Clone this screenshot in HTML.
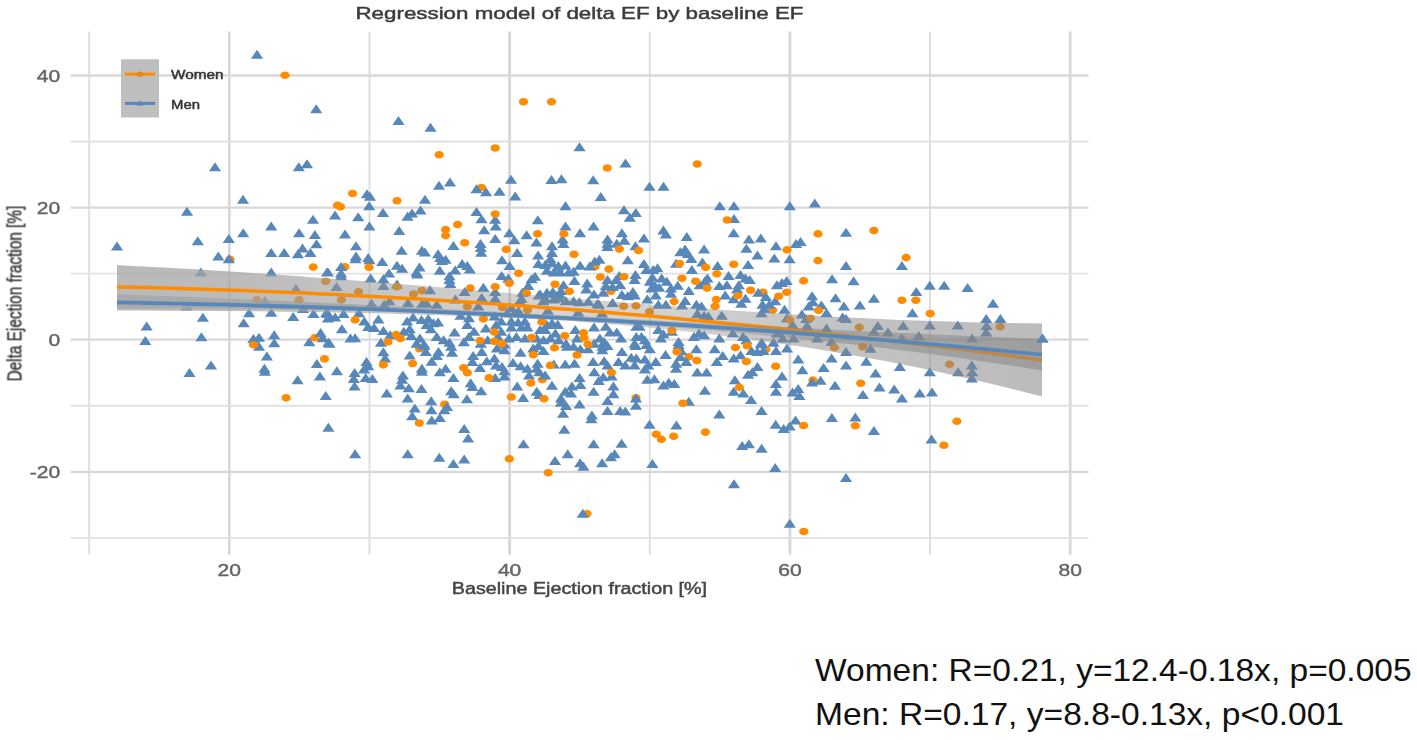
<!DOCTYPE html><html><head><meta charset="utf-8"><title>Regression model of delta EF by baseline EF</title>
<style>html,body{margin:0;padding:0;background:#fff}svg{display:block}text{font-family:"Liberation Sans",sans-serif}.b text{stroke-width:.45px;paint-order:stroke}</style></head><body>
<svg width="1417" height="740" viewBox="0 0 1417 740">
<defs><filter id="bl" x="-2%" y="-2%" width="104%" height="104%"><feGaussianBlur stdDeviation="0.7"/></filter></defs>
<rect width="1417" height="740" fill="#fff"/>
<g filter="url(#bl)" class="b">
<g stroke="#d9d9d9"><line x1="89.2" y1="31.5" x2="89.2" y2="554.8" stroke-width="2.0" stroke="#dfdfdf"/><line x1="229.3" y1="31.5" x2="229.3" y2="554.8" stroke-width="2.8" stroke="#d8d8d8"/><line x1="369.5" y1="31.5" x2="369.5" y2="554.8" stroke-width="2.0" stroke="#dfdfdf"/><line x1="509.6" y1="31.5" x2="509.6" y2="554.8" stroke-width="2.8" stroke="#d8d8d8"/><line x1="649.8" y1="31.5" x2="649.8" y2="554.8" stroke-width="2.0" stroke="#dfdfdf"/><line x1="789.9" y1="31.5" x2="789.9" y2="554.8" stroke-width="2.8" stroke="#d8d8d8"/><line x1="930.0" y1="31.5" x2="930.0" y2="554.8" stroke-width="2.0" stroke="#dfdfdf"/><line x1="1070.2" y1="31.5" x2="1070.2" y2="554.8" stroke-width="2.8" stroke="#d8d8d8"/><line x1="70.6" y1="537.9" x2="1088.5" y2="537.9" stroke-width="1.9" stroke="#e1e1e1"/><line x1="70.6" y1="471.8" x2="1088.5" y2="471.8" stroke-width="2.3" stroke="#d8d8d8"/><line x1="70.6" y1="405.8" x2="1088.5" y2="405.8" stroke-width="1.9" stroke="#e1e1e1"/><line x1="70.6" y1="339.7" x2="1088.5" y2="339.7" stroke-width="2.3" stroke="#d8d8d8"/><line x1="70.6" y1="273.6" x2="1088.5" y2="273.6" stroke-width="1.9" stroke="#e1e1e1"/><line x1="70.6" y1="207.6" x2="1088.5" y2="207.6" stroke-width="2.3" stroke="#d8d8d8"/><line x1="70.6" y1="141.5" x2="1088.5" y2="141.5" stroke-width="1.9" stroke="#e1e1e1"/><line x1="70.6" y1="75.5" x2="1088.5" y2="75.5" stroke-width="2.3" stroke="#d8d8d8"/></g>
<g fill="#ff8c00"><ellipse cx="481.5" cy="187.5" rx="4.6" ry="3.8"/><ellipse cx="230.0" cy="259.4" rx="4.6" ry="3.8"/><ellipse cx="314.9" cy="337.7" rx="4.6" ry="3.8"/><ellipse cx="345.0" cy="266.9" rx="4.6" ry="3.8"/><ellipse cx="594.8" cy="266.9" rx="4.6" ry="3.8"/><ellipse cx="610.9" cy="291.4" rx="4.6" ry="3.8"/><ellipse cx="763.0" cy="292.3" rx="4.6" ry="3.8"/><ellipse cx="772.6" cy="310.1" rx="4.6" ry="3.8"/><ellipse cx="419.5" cy="348.8" rx="4.6" ry="3.8"/><ellipse cx="542.3" cy="379.6" rx="4.6" ry="3.8"/><ellipse cx="444.7" cy="404.3" rx="4.6" ry="3.8"/><ellipse cx="688.8" cy="356.9" rx="4.6" ry="3.8"/><ellipse cx="765.9" cy="349.6" rx="4.6" ry="3.8"/><ellipse cx="636.0" cy="397.9" rx="4.6" ry="3.8"/><ellipse cx="812.9" cy="380.1" rx="4.6" ry="3.8"/><ellipse cx="587.0" cy="513.8" rx="4.6" ry="3.8"/></g>
<path fill="#5888ba" d="M250.9 58.7L257.0 49.7L263.1 58.7ZM310.1 113.2L316.2 104.2L322.3 113.2ZM392.4 124.9L398.5 115.9L404.6 124.9ZM424.4 131.7L430.5 122.7L436.6 131.7ZM208.9 171.2L215.0 162.2L221.1 171.2ZM292.7 171.2L298.8 162.2L304.9 171.2ZM300.9 168.2L307.0 159.2L313.1 168.2ZM236.9 203.7L243.0 194.7L249.1 203.7ZM180.9 215.7L187.0 206.7L193.1 215.7ZM432.9 189.7L439.0 180.7L445.1 189.7ZM443.9 186.5L450.0 177.5L456.1 186.5ZM360.9 198.2L367.0 189.2L373.1 198.2ZM363.9 200.7L370.0 191.7L376.1 200.7ZM418.9 203.7L425.0 194.7L431.1 203.7ZM363.1 210.2L369.2 201.2L375.3 210.2ZM376.9 216.9L383.0 207.9L389.1 216.9ZM414.4 214.5L420.5 205.5L426.6 214.5ZM405.9 217.5L412.0 208.5L418.1 217.5ZM401.4 220.7L407.5 211.7L413.6 220.7ZM328.9 219.5L335.0 210.5L341.1 219.5ZM352.1 221.2L358.2 212.2L364.3 221.2ZM306.9 223.7L313.0 214.7L319.1 223.7ZM573.4 151.2L579.5 142.2L585.6 151.2ZM619.4 167.5L625.5 158.5L631.6 167.5ZM504.9 183.7L511.0 174.7L517.1 183.7ZM545.4 183.9L551.5 174.9L557.6 183.9ZM555.4 183.2L561.5 174.2L567.6 183.2ZM587.1 184.2L593.2 175.2L599.3 184.2ZM643.4 190.7L649.5 181.7L655.6 190.7ZM657.4 190.7L663.5 181.7L669.6 190.7ZM470.4 193.2L476.5 184.2L482.6 193.2ZM479.9 196.2L486.0 187.2L492.1 196.2ZM493.4 195.7L499.5 186.7L505.6 195.7ZM509.1 200.5L515.2 191.5L521.3 200.5ZM594.7 200.9L600.8 191.9L606.9 200.9ZM559.4 210.2L565.5 201.2L571.6 210.2ZM713.7 210.2L719.8 201.2L725.9 210.2ZM727.9 210.2L734.0 201.2L740.1 210.2ZM783.7 210.2L789.8 201.2L795.9 210.2ZM470.4 215.9L476.5 206.9L482.6 215.9ZM617.9 214.2L624.0 205.2L630.1 214.2ZM629.7 216.9L635.8 207.9L641.9 216.9ZM623.7 221.7L629.8 212.7L635.9 221.7ZM475.4 223.2L481.5 214.2L487.6 223.2ZM489.1 223.7L495.2 214.7L501.3 223.7ZM531.7 224.2L537.8 215.2L543.9 224.2ZM727.9 222.9L734.0 213.9L740.1 222.9ZM808.7 207.5L814.8 198.5L820.9 207.5ZM265.1 230.4L271.2 221.4L277.3 230.4ZM237.1 237.2L243.2 228.2L249.3 237.2ZM293.0 237.2L299.1 228.2L305.2 237.2ZM308.8 238.9L314.9 229.9L321.0 238.9ZM222.7 243.1L228.8 234.1L234.9 243.1ZM191.7 245.3L197.8 236.3L203.9 245.3ZM310.4 248.2L316.5 239.2L322.6 248.2ZM110.9 250.4L117.0 241.4L123.1 250.4ZM296.4 252.5L302.5 243.5L308.6 252.5ZM265.1 257.0L271.2 248.0L277.3 257.0ZM278.1 257.0L284.2 248.0L290.3 257.0ZM291.8 258.2L297.9 249.2L304.0 258.2ZM304.3 257.0L310.4 248.0L316.5 257.0ZM212.2 260.6L218.3 251.6L224.4 260.6ZM222.7 263.3L228.8 254.3L234.9 263.3ZM194.8 276.5L200.9 267.5L207.0 276.5ZM265.1 276.5L271.2 267.5L277.3 276.5ZM320.9 276.5L327.0 267.5L333.1 276.5ZM289.8 292.9L295.9 283.9L302.0 292.9ZM258.8 305.3L264.9 296.3L271.0 305.3ZM180.4 310.4L186.5 301.4L192.6 310.4ZM296.9 312.9L303.0 303.9L309.1 312.9ZM243.0 317.2L249.1 308.2L255.2 317.2ZM265.1 316.7L271.2 307.7L277.3 316.7ZM287.1 320.9L293.2 311.9L299.3 320.9ZM307.4 318.0L313.5 309.0L319.6 318.0ZM320.1 317.2L326.2 308.2L332.3 317.2ZM321.8 322.6L327.9 313.6L334.0 322.6ZM196.8 321.7L202.9 312.7L209.0 321.7ZM237.6 327.3L243.7 318.3L249.8 327.3ZM140.6 330.4L146.7 321.4L152.8 330.4ZM139.2 345.1L145.3 336.1L151.4 345.1ZM195.3 341.2L201.4 332.2L207.5 341.2ZM247.3 342.9L253.4 333.9L259.5 342.9ZM252.9 341.7L259.0 332.7L265.1 341.7ZM268.1 339.2L274.2 330.2L280.3 339.2ZM314.5 337.1L320.6 328.1L326.7 337.1ZM316.7 342.2L322.8 333.2L328.9 342.2ZM303.2 346.3L309.3 337.3L315.4 346.3ZM268.1 347.3L274.2 338.3L280.3 347.3ZM323.5 347.7L329.6 338.7L335.7 347.7ZM363.3 230.4L369.4 221.4L375.5 230.4ZM338.9 238.4L345.0 229.4L351.1 238.4ZM393.1 235.0L399.2 226.0L405.3 235.0ZM478.1 234.2L484.2 225.2L490.3 234.2ZM489.6 230.4L495.7 221.4L501.8 230.4ZM503.2 237.2L509.3 228.2L515.4 237.2ZM520.5 239.3L526.6 230.3L532.7 239.3ZM489.1 243.1L495.2 234.1L501.3 243.1ZM508.3 244.3L514.4 235.3L520.5 244.3ZM530.3 246.4L536.4 237.4L542.5 246.4ZM545.9 250.3L552.0 241.3L558.1 250.3ZM349.9 250.3L356.0 241.3L362.1 250.3ZM447.3 249.9L453.4 240.9L459.5 249.9ZM474.4 248.1L480.5 239.1L486.6 248.1ZM474.7 252.0L480.8 243.0L486.9 252.0ZM475.1 256.7L481.2 247.7L487.3 256.7ZM395.5 254.8L401.6 245.8L407.7 254.8ZM415.8 254.8L421.9 245.8L428.0 254.8ZM418.8 256.5L424.9 247.5L431.0 256.5ZM511.1 257.0L517.2 248.0L523.3 257.0ZM532.0 259.6L538.1 250.6L544.2 259.6ZM545.9 257.0L552.0 248.0L558.1 257.0ZM544.2 263.0L550.3 254.0L556.4 263.0ZM349.9 260.4L356.0 251.4L362.1 260.4ZM349.4 263.3L355.5 254.3L361.6 263.3ZM362.1 262.1L368.2 253.1L374.3 262.1ZM363.3 264.3L369.4 255.3L375.5 264.3ZM376.1 266.0L382.2 257.0L388.3 266.0ZM432.0 258.2L438.1 249.2L444.2 258.2ZM434.1 262.1L440.2 253.1L446.3 262.1ZM439.5 263.8L445.6 254.8L451.7 263.8ZM435.8 265.0L441.9 256.0L448.0 265.0ZM495.9 264.3L502.0 255.3L508.1 264.3ZM503.5 270.1L509.6 261.1L515.7 270.1ZM456.1 268.0L462.2 259.0L468.3 268.0ZM461.2 270.1L467.3 261.1L473.4 270.1ZM463.7 273.6L469.8 264.6L475.9 273.6ZM390.9 269.7L397.0 260.7L403.1 269.7ZM396.0 272.8L402.1 263.8L408.2 272.8ZM413.4 271.4L419.5 262.4L425.6 271.4ZM335.0 271.1L341.1 262.1L347.2 271.1ZM449.0 274.5L455.1 265.5L461.2 274.5ZM433.7 274.8L439.8 265.8L445.9 274.8ZM410.4 276.5L416.5 267.5L422.6 276.5ZM411.2 278.5L417.3 269.5L423.4 278.5ZM382.9 277.4L389.0 268.4L395.1 277.4ZM321.9 276.5L328.0 267.5L334.1 276.5ZM335.0 277.4L341.1 268.4L347.2 277.4ZM335.0 280.2L341.1 271.2L347.2 280.2ZM364.6 282.4L370.7 273.4L376.8 282.4ZM377.3 283.3L383.4 274.3L389.5 283.3ZM443.4 280.2L449.5 271.2L455.6 280.2ZM443.4 284.1L449.5 275.1L455.6 284.1ZM444.2 288.0L450.3 279.0L456.4 288.0ZM495.6 279.9L501.7 270.9L507.8 279.9ZM502.2 282.4L508.3 273.4L514.4 282.4ZM528.9 280.7L535.0 271.7L541.1 280.7ZM525.5 283.3L531.6 274.3L537.7 283.3ZM532.3 268.0L538.4 259.0L544.5 268.0ZM539.1 268.9L545.2 259.9L551.3 268.9ZM545.9 267.2L552.0 258.2L558.1 267.2ZM551.8 271.4L557.9 262.4L564.0 271.4ZM540.8 274.8L546.9 265.8L553.0 274.8ZM547.6 276.5L553.7 267.5L559.8 276.5ZM522.2 290.1L528.3 281.1L534.4 290.1ZM477.3 291.8L483.4 282.8L489.5 291.8ZM489.1 296.0L495.2 287.0L501.3 296.0ZM458.6 296.0L464.7 287.0L470.8 296.0ZM423.9 294.3L430.0 285.3L436.1 294.3ZM377.3 290.1L383.4 281.1L389.5 290.1ZM330.4 290.9L336.5 281.9L342.6 290.9ZM390.9 288.4L397.0 279.4L403.1 288.4ZM516.2 296.8L522.3 287.8L528.4 296.8ZM515.4 302.8L521.5 293.8L527.6 302.8ZM475.6 301.9L481.7 292.9L487.8 301.9ZM489.1 302.8L495.2 293.8L501.3 302.8ZM449.3 303.6L455.4 294.6L461.5 303.6ZM534.0 298.5L540.1 289.5L546.2 298.5ZM540.8 296.8L546.9 287.8L553.0 296.8ZM546.7 296.0L552.8 287.0L558.9 296.0ZM553.5 298.5L559.6 289.5L565.7 298.5ZM539.1 302.8L545.2 293.8L551.3 302.8ZM547.6 303.6L553.7 294.6L559.8 303.6ZM383.3 305.3L389.4 296.3L395.5 305.3ZM365.5 307.8L371.6 298.8L377.7 307.8ZM401.9 307.0L408.0 298.0L414.1 307.0ZM416.3 307.8L422.4 298.8L428.5 307.8ZM420.5 307.8L426.6 298.8L432.7 307.8ZM430.7 308.7L436.8 299.7L442.9 308.7ZM378.2 308.7L384.3 299.7L390.4 308.7ZM472.2 310.4L478.3 301.4L484.4 310.4ZM505.2 312.1L511.3 303.1L517.4 312.1ZM513.7 305.3L519.8 296.3L525.9 305.3ZM321.9 318.0L328.0 309.0L334.1 318.0ZM329.1 321.4L335.2 312.4L341.3 321.4ZM337.5 318.0L343.6 309.0L349.7 318.0ZM352.8 317.2L358.9 308.2L365.0 317.2ZM358.2 325.6L364.3 316.6L370.4 325.6ZM372.3 323.6L378.4 314.6L384.5 323.6ZM362.1 331.1L368.2 322.1L374.3 331.1ZM368.0 332.1L374.1 323.1L380.2 332.1ZM335.8 333.3L341.9 324.3L348.0 333.3ZM377.3 334.9L383.4 325.9L389.5 334.9ZM344.3 342.6L350.4 333.6L356.5 342.6ZM349.0 342.2L355.1 333.2L361.2 342.2ZM322.3 346.8L328.4 337.8L334.5 346.8ZM374.8 346.8L380.9 337.8L387.0 346.8ZM384.1 339.2L390.2 330.2L396.3 339.2ZM401.0 325.6L407.1 316.6L413.2 325.6ZM407.0 321.4L413.1 312.4L419.2 321.4ZM415.4 323.9L421.5 314.9L427.6 323.9ZM422.2 323.1L428.3 314.1L434.4 323.1ZM420.5 329.0L426.6 320.0L432.7 329.0ZM427.3 327.3L433.4 318.3L439.5 327.3ZM432.0 326.5L438.1 317.5L444.2 326.5ZM424.8 333.3L430.9 324.3L437.0 333.3ZM403.6 333.3L409.7 324.3L415.8 333.3ZM397.7 335.8L403.8 326.8L409.9 335.8ZM405.3 340.0L411.4 331.0L417.5 340.0ZM413.8 342.6L419.9 333.6L426.0 342.6ZM410.4 347.7L416.5 338.7L422.6 347.7ZM418.0 348.5L424.1 339.5L430.2 348.5ZM430.7 340.9L436.8 331.9L442.9 340.9ZM437.5 344.3L443.6 335.3L449.7 344.3ZM443.4 346.8L449.5 337.8L455.6 346.8ZM448.5 336.6L454.6 327.6L460.7 336.6ZM461.2 329.0L467.3 320.0L473.4 329.0ZM468.0 335.8L474.1 326.8L480.2 335.8ZM462.9 340.9L469.0 331.9L475.1 340.9ZM457.8 346.3L463.9 337.3L470.0 346.3ZM488.3 320.6L494.4 311.6L500.5 320.6ZM495.1 325.6L501.2 316.6L507.3 325.6ZM490.0 329.0L496.1 320.0L502.2 329.0ZM479.8 332.4L485.9 323.4L492.0 332.4ZM505.2 325.6L511.3 316.6L517.4 325.6ZM512.0 326.5L518.1 317.5L524.2 326.5ZM518.8 325.6L524.9 316.6L531.0 325.6ZM505.2 331.6L511.3 322.6L517.4 331.6ZM515.4 331.6L521.5 322.6L527.6 331.6ZM521.3 331.6L527.4 322.6L533.5 331.6ZM495.1 335.8L501.2 326.8L507.3 335.8ZM491.7 340.9L497.8 331.9L503.9 340.9ZM502.7 342.6L508.8 333.6L514.9 342.6ZM510.3 340.9L516.4 331.9L522.5 340.9ZM518.8 342.6L524.9 333.6L531.0 342.6ZM534.0 334.1L540.1 325.1L546.2 334.1ZM540.8 329.0L546.9 320.0L553.0 329.0ZM545.9 327.3L552.0 318.3L558.1 327.3ZM551.8 329.0L557.9 320.0L564.0 329.0ZM539.1 334.1L545.2 325.1L551.3 334.1ZM549.3 337.5L555.4 328.5L561.5 337.5ZM530.6 342.6L536.7 333.6L542.8 342.6ZM537.4 344.3L543.5 335.3L549.6 344.3ZM544.2 342.6L550.3 333.6L556.4 342.6ZM552.6 344.3L558.7 335.3L564.8 344.3ZM501.0 317.2L507.1 308.2L513.2 317.2ZM508.6 317.2L514.7 308.2L520.8 317.2ZM454.4 319.7L460.5 310.7L466.6 319.7ZM462.9 322.2L469.0 313.2L475.1 322.2ZM474.7 347.7L480.8 338.7L486.9 347.7ZM481.5 344.3L487.6 335.3L493.7 344.3ZM498.4 348.5L504.5 339.5L510.6 348.5ZM559.4 230.4L565.5 221.4L571.6 230.4ZM587.5 230.4L593.6 221.4L599.7 230.4ZM574.0 237.2L580.1 228.2L586.2 237.2ZM556.5 243.5L562.6 234.5L568.7 243.5ZM557.4 248.1L563.5 239.1L569.6 248.1ZM615.8 237.2L621.9 228.2L628.0 237.2ZM601.4 243.5L607.5 234.5L613.6 243.5ZM601.4 247.7L607.5 238.7L613.6 247.7ZM601.4 251.1L607.5 242.1L613.6 251.1ZM610.7 247.7L616.8 238.7L622.9 247.7ZM618.3 244.7L624.4 235.7L630.5 244.7ZM637.8 242.6L643.9 233.6L650.0 242.6ZM629.4 250.3L635.5 241.3L641.6 250.3ZM657.3 234.5L663.4 225.5L669.5 234.5ZM659.8 238.4L665.9 229.4L672.0 238.4ZM680.7 240.9L686.8 231.9L692.9 240.9ZM727.6 237.2L733.7 228.2L739.8 237.2ZM742.8 243.5L748.9 234.5L755.0 243.5ZM754.7 242.6L760.8 233.6L766.9 242.6ZM740.3 252.8L746.4 243.8L752.5 252.8ZM769.9 250.3L776.0 241.3L782.1 250.3ZM751.3 259.6L757.4 250.6L763.5 259.6ZM768.2 262.6L774.3 253.6L780.4 262.6ZM783.5 263.3L789.6 254.3L795.7 263.3ZM698.0 253.6L704.1 244.6L710.2 253.6ZM674.2 256.2L680.3 247.2L686.4 256.2ZM679.0 253.6L685.1 244.6L691.2 253.6ZM681.9 257.9L688.0 248.9L694.1 257.9ZM685.2 263.0L691.3 254.0L697.4 263.0ZM696.3 266.4L702.4 257.4L708.5 266.4ZM670.0 267.7L676.1 258.7L682.2 267.7ZM711.5 270.1L717.6 261.1L723.7 270.1ZM742.0 268.9L748.1 259.9L754.2 268.9ZM685.8 274.0L691.9 265.0L698.0 274.0ZM621.7 264.3L627.8 255.3L633.9 264.3ZM593.3 263.8L599.4 254.8L605.5 263.8ZM588.7 265.5L594.8 256.5L600.9 265.5ZM574.0 269.7L580.1 260.7L586.2 269.7ZM559.4 269.4L565.5 260.4L571.6 269.4ZM552.3 270.1L558.4 261.1L564.5 270.1ZM583.6 270.6L589.7 261.6L595.8 270.6ZM637.8 268.0L643.9 259.0L650.0 268.0ZM640.4 274.0L646.5 265.0L652.6 274.0ZM647.1 274.0L653.2 265.0L659.3 274.0ZM651.4 272.3L657.5 263.3L663.6 272.3ZM629.4 279.1L635.5 270.1L641.6 279.1ZM628.5 284.1L634.6 275.1L640.7 284.1ZM646.3 281.6L652.4 272.6L658.5 281.6ZM643.8 285.8L649.9 276.8L656.0 285.8ZM655.6 282.4L661.7 273.4L667.8 282.4ZM660.7 285.8L666.8 276.8L672.9 285.8ZM613.3 279.9L619.4 270.9L625.5 279.9ZM609.9 284.1L616.0 275.1L622.1 284.1ZM601.4 284.1L607.5 275.1L613.6 284.1ZM599.7 290.1L605.8 281.1L611.9 290.1ZM606.5 290.9L612.6 281.9L618.7 290.9ZM614.1 289.2L620.2 280.2L626.3 289.2ZM581.1 287.5L587.2 278.5L593.3 287.5ZM580.2 293.5L586.3 284.5L592.4 293.5ZM568.4 285.0L574.5 276.0L580.6 285.0ZM557.4 289.2L563.5 280.2L569.6 289.2ZM554.0 276.5L560.1 267.5L566.2 276.5ZM562.5 276.5L568.6 267.5L574.7 276.5ZM567.5 275.7L573.6 266.7L579.7 275.7ZM554.8 295.1L560.9 286.1L567.0 295.1ZM587.9 298.5L594.0 289.5L600.1 298.5ZM597.2 296.8L603.3 287.8L609.4 296.8ZM615.8 298.9L621.9 289.9L628.0 298.9ZM621.7 300.2L627.8 291.2L633.9 300.2ZM626.8 296.0L632.9 287.0L639.0 296.0ZM628.5 299.4L634.6 290.4L640.7 299.4ZM645.4 292.6L651.5 283.6L657.6 292.6ZM648.8 290.1L654.9 281.1L661.0 290.1ZM653.1 291.8L659.2 282.8L665.3 291.8ZM664.9 292.6L671.0 283.6L677.1 292.6ZM664.9 297.7L671.0 288.7L677.1 297.7ZM671.7 289.7L677.8 280.7L683.9 289.7ZM682.7 295.1L688.8 286.1L694.9 295.1ZM649.7 299.4L655.8 290.4L661.9 299.4ZM641.2 303.6L647.3 294.6L653.4 303.6ZM652.2 308.7L658.3 299.7L664.4 308.7ZM659.8 308.7L665.9 299.7L672.0 308.7ZM679.0 305.0L685.1 296.0L691.2 305.0ZM675.9 309.5L682.0 300.5L688.1 309.5ZM690.3 308.7L696.4 299.7L702.5 308.7ZM695.4 310.4L701.5 301.4L707.6 310.4ZM701.3 282.4L707.4 273.4L713.5 282.4ZM698.8 285.3L704.9 276.3L711.0 285.3ZM693.7 289.2L699.8 280.2L705.9 289.2ZM713.2 290.1L719.3 281.1L725.4 290.1ZM720.8 289.2L726.9 280.2L733.0 289.2ZM722.5 279.9L728.6 270.9L734.7 279.9ZM734.4 279.1L740.5 270.1L746.6 279.1ZM739.4 282.4L745.5 273.4L751.6 282.4ZM743.7 284.1L749.8 275.1L755.9 284.1ZM732.7 289.2L738.8 280.2L744.9 289.2ZM731.0 293.5L737.1 284.5L743.2 293.5ZM719.1 299.4L725.2 290.4L731.3 299.4ZM727.6 303.3L733.7 294.3L739.8 303.3ZM739.4 302.8L745.5 293.8L751.6 302.8ZM735.2 307.8L741.3 298.8L747.4 307.8ZM752.2 296.8L758.3 287.8L764.4 296.8ZM759.8 301.1L765.9 292.1L772.0 301.1ZM756.4 308.7L762.5 299.7L768.6 308.7ZM763.2 308.7L769.3 299.7L775.4 308.7ZM758.1 312.9L764.2 303.9L770.3 312.9ZM755.5 317.2L761.6 308.2L767.7 317.2ZM769.1 305.3L775.2 296.3L781.3 305.3ZM770.8 289.2L776.9 280.2L783.0 289.2ZM775.9 287.0L782.0 278.0L788.1 287.0ZM780.6 285.0L786.7 276.0L792.8 285.0ZM778.4 313.8L784.5 304.8L790.6 313.8ZM606.5 307.0L612.6 298.0L618.7 307.0ZM592.9 308.7L599.0 299.7L605.1 308.7ZM567.5 305.3L573.6 296.3L579.7 305.3ZM691.2 318.0L697.3 309.0L703.4 318.0ZM698.0 319.7L704.1 310.7L710.2 319.7ZM702.2 320.6L708.3 311.6L714.4 320.6ZM715.7 319.7L721.8 310.7L727.9 319.7ZM780.9 322.2L787.0 313.2L793.1 322.2ZM551.4 329.0L557.5 320.0L563.6 329.0ZM569.2 334.1L575.3 325.1L581.4 334.1ZM570.9 342.6L577.0 333.6L583.1 342.6ZM587.9 331.6L594.0 322.6L600.1 331.6ZM599.7 330.7L605.8 321.7L611.9 330.7ZM603.9 336.6L610.0 327.6L616.1 336.6ZM610.7 336.6L616.8 327.6L622.9 336.6ZM615.0 342.6L621.1 333.6L627.2 342.6ZM593.8 342.6L599.9 333.6L606.0 342.6ZM598.0 346.0L604.1 337.0L610.2 346.0ZM559.9 347.7L566.0 338.7L572.1 347.7ZM587.9 347.7L594.0 338.7L600.1 347.7ZM630.2 330.7L636.3 321.7L642.4 330.7ZM633.6 330.7L639.7 321.7L645.8 330.7ZM630.2 340.9L636.3 331.9L642.4 340.9ZM635.3 340.9L641.4 331.9L647.5 340.9ZM638.7 344.3L644.8 335.3L650.9 344.3ZM628.5 347.7L634.6 338.7L640.7 347.7ZM652.2 334.1L658.3 325.1L664.4 334.1ZM657.3 338.3L663.4 329.3L669.5 338.3ZM654.8 342.6L660.9 333.6L667.0 342.6ZM665.8 335.8L671.9 326.8L678.0 335.8ZM672.5 346.0L678.6 337.0L684.7 346.0ZM687.8 340.9L693.9 331.9L700.0 340.9ZM692.9 337.5L699.0 328.5L705.1 337.5ZM698.0 339.2L704.1 330.2L710.2 339.2ZM713.2 342.6L719.3 333.6L725.4 342.6ZM736.9 340.9L743.0 331.9L749.1 340.9ZM740.3 344.3L746.4 335.3L752.5 344.3ZM755.5 346.8L761.6 337.8L767.7 346.8ZM767.4 346.8L773.5 337.8L779.6 346.8ZM776.7 342.6L782.8 333.6L788.9 342.6ZM726.7 337.5L732.8 328.5L738.9 337.5ZM770.8 337.5L776.9 328.5L783.0 337.5ZM839.9 236.7L846.0 227.7L852.1 236.7ZM789.9 248.1L796.0 239.1L802.1 248.1ZM794.5 246.0L800.6 237.0L806.7 246.0ZM839.9 270.1L846.0 261.1L852.1 270.1ZM895.8 270.1L901.9 261.1L908.0 270.1ZM826.0 283.3L832.1 274.3L838.2 283.3ZM847.5 285.3L853.6 276.3L859.7 285.3ZM923.7 289.7L929.8 280.7L935.9 289.7ZM938.1 289.7L944.2 280.7L950.3 289.7ZM961.5 292.1L967.6 283.1L973.7 292.1ZM910.2 296.0L916.3 287.0L922.4 296.0ZM806.0 300.2L812.1 291.2L818.2 300.2ZM829.4 302.3L835.5 293.3L841.6 302.3ZM867.8 302.8L873.9 293.8L880.0 302.8ZM986.9 307.8L993.0 298.8L999.1 307.8ZM837.8 310.4L843.9 301.4L850.0 310.4ZM853.8 309.5L859.9 300.5L866.0 309.5ZM802.6 310.4L808.7 301.4L814.8 310.4ZM806.8 306.2L812.9 297.2L819.0 306.2ZM815.3 309.5L821.4 300.5L827.5 309.5ZM820.4 317.2L826.5 308.2L832.6 317.2ZM906.3 317.2L912.4 308.2L918.5 317.2ZM795.8 318.5L801.9 309.5L808.0 318.5ZM800.1 323.1L806.2 314.1L812.3 323.1ZM836.5 321.4L842.6 312.4L848.7 321.4ZM839.9 323.1L846.0 314.1L852.1 323.1ZM980.1 323.1L986.2 314.1L992.3 323.1ZM994.3 323.1L1000.4 314.1L1006.5 323.1ZM980.5 329.9L986.6 320.9L992.7 329.9ZM980.1 336.6L986.2 327.6L992.3 336.6ZM951.7 329.4L957.8 320.4L963.9 329.4ZM923.7 329.4L929.8 320.4L935.9 329.4ZM897.1 329.9L903.2 320.9L909.3 329.9ZM871.7 329.9L877.8 320.9L883.9 329.9ZM867.8 335.8L873.9 326.8L880.0 335.8ZM881.9 336.6L888.0 327.6L894.1 336.6ZM912.7 340.0L918.8 331.0L924.9 340.0ZM895.8 342.6L901.9 333.6L908.0 342.6ZM966.1 342.6L972.2 333.6L978.3 342.6ZM820.4 332.4L826.5 323.4L832.6 332.4ZM800.9 329.9L807.0 320.9L813.1 329.9ZM786.5 329.0L792.6 320.0L798.7 329.0ZM787.4 342.6L793.5 333.6L799.6 342.6ZM811.1 342.6L817.2 333.6L823.3 342.6ZM825.5 346.0L831.6 337.0L837.7 346.0ZM1036.3 342.6L1042.4 333.6L1048.5 342.6ZM252.9 350.8L259.0 341.8L265.1 350.8ZM260.8 360.6L266.9 351.6L273.0 360.6ZM204.9 369.4L211.0 360.4L217.1 369.4ZM183.4 377.0L189.5 368.0L195.6 377.0ZM258.3 372.8L264.4 363.8L270.5 372.8ZM258.8 375.8L264.9 366.8L271.0 375.8ZM310.8 368.1L316.9 359.1L323.0 368.1ZM313.8 380.4L319.9 371.4L326.0 380.4ZM291.5 384.3L297.6 375.3L303.7 384.3ZM319.6 399.9L325.7 390.9L331.8 399.9ZM322.3 431.7L328.4 422.7L334.5 431.7ZM377.3 356.2L383.4 347.2L389.5 356.2ZM379.0 362.6L385.1 353.6L391.2 362.6ZM403.6 359.6L409.7 350.6L415.8 359.6ZM418.0 349.9L424.1 340.9L430.2 349.9ZM419.7 355.9L425.8 346.9L431.9 355.9ZM425.6 365.7L431.7 356.7L437.8 365.7ZM432.4 355.9L438.5 346.9L444.6 355.9ZM430.7 360.1L436.8 351.1L442.9 360.1ZM445.1 350.8L451.2 341.8L457.3 350.8ZM445.9 356.7L452.0 347.7L458.1 356.7ZM475.6 355.9L481.7 346.9L487.8 355.9ZM467.1 360.1L473.2 351.1L479.3 360.1ZM466.3 366.0L472.4 357.0L478.5 366.0ZM480.7 365.2L486.8 356.2L492.9 365.2ZM488.3 362.6L494.4 353.6L500.5 362.6ZM490.8 352.5L496.9 343.5L503.0 352.5ZM498.4 354.2L504.5 345.2L510.6 354.2ZM490.0 369.4L496.1 360.4L502.2 369.4ZM495.9 371.1L502.0 362.1L508.1 371.1ZM498.4 375.3L504.5 366.3L510.6 375.3ZM473.9 372.0L480.0 363.0L486.1 372.0ZM489.1 382.1L495.2 373.1L501.3 382.1ZM498.4 380.4L504.5 371.4L510.6 380.4ZM514.5 356.7L520.6 347.7L526.7 356.7ZM506.9 366.9L513.0 357.9L519.1 366.9ZM514.5 370.3L520.6 361.3L526.7 370.3ZM521.3 372.8L527.4 363.8L533.5 372.8ZM531.5 367.7L537.6 358.7L543.7 367.7ZM530.6 372.8L536.7 363.8L542.8 372.8ZM523.0 379.6L529.1 370.6L535.2 379.6ZM533.2 376.2L539.3 367.2L545.4 376.2ZM539.1 379.6L545.2 370.6L551.3 379.6ZM527.2 352.5L533.3 343.5L539.4 352.5ZM532.3 349.9L538.4 340.9L544.5 349.9ZM537.4 355.0L543.5 346.0L549.6 355.0ZM547.6 368.6L553.7 359.6L559.8 368.6ZM545.9 389.7L552.0 380.7L558.1 389.7ZM511.1 390.6L517.2 381.6L523.3 390.6ZM530.6 395.7L536.7 386.7L542.8 395.7ZM533.2 399.1L539.3 390.1L545.4 399.1ZM517.1 401.9L523.2 392.9L529.3 401.9ZM360.4 366.0L366.5 357.0L372.6 366.0ZM362.1 370.3L368.2 361.3L374.3 370.3ZM357.9 373.6L364.0 364.6L370.1 373.6ZM348.5 377.0L354.6 368.0L360.7 377.0ZM347.7 383.0L353.8 374.0L359.9 383.0ZM359.6 382.1L365.7 373.1L371.8 382.1ZM366.3 383.0L372.4 374.0L378.5 383.0ZM348.5 390.6L354.6 381.6L360.7 390.6ZM330.8 375.3L336.9 366.3L343.0 375.3ZM415.8 372.8L421.9 363.8L428.0 372.8ZM415.8 375.8L421.9 366.8L428.0 375.8ZM433.7 376.2L439.8 367.2L445.9 376.2ZM439.5 372.8L445.6 363.8L451.7 372.8ZM447.3 382.1L453.4 373.1L459.5 382.1ZM396.8 379.6L402.9 370.6L409.0 379.6ZM396.0 383.8L402.1 374.8L408.2 383.8ZM394.3 389.4L400.4 380.4L406.5 389.4ZM402.7 392.3L408.8 383.3L414.9 392.3ZM415.4 393.1L421.5 384.1L427.6 393.1ZM380.7 397.4L386.8 388.4L392.9 397.4ZM401.6 402.4L407.7 393.4L413.8 402.4ZM445.1 395.2L451.2 386.2L457.3 395.2ZM447.6 398.2L453.7 389.2L459.8 398.2ZM464.6 387.2L470.7 378.2L476.8 387.2ZM466.3 391.1L472.4 382.1L478.5 391.1ZM475.1 395.2L481.2 386.2L487.3 395.2ZM460.8 403.3L466.9 394.3L473.0 403.3ZM425.1 405.3L431.2 396.3L437.3 405.3ZM408.7 412.6L414.8 403.6L420.9 412.6ZM425.3 414.3L431.4 405.3L437.5 414.3ZM440.9 410.9L447.0 401.9L453.1 410.9ZM438.3 414.3L444.4 405.3L450.5 414.3ZM406.1 420.2L412.2 411.2L418.3 420.2ZM425.6 424.5L431.7 415.5L437.8 424.5ZM433.7 421.9L439.8 412.9L445.9 421.9ZM458.1 432.9L464.2 423.9L470.3 432.9ZM462.0 442.6L468.1 433.6L474.2 442.6ZM517.4 448.2L523.5 439.2L529.6 448.2ZM349.0 458.3L355.1 449.3L361.2 458.3ZM401.6 458.3L407.7 449.3L413.8 458.3ZM433.2 461.7L439.3 452.7L445.4 461.7ZM458.1 463.4L464.2 454.4L470.3 463.4ZM447.3 468.0L453.4 459.0L459.5 468.0ZM548.9 465.1L555.0 456.1L561.1 465.1ZM560.8 350.8L566.9 341.8L573.0 350.8ZM567.5 350.8L573.6 341.8L579.7 350.8ZM574.3 353.3L580.4 344.3L586.5 353.3ZM596.3 350.8L602.4 341.8L608.5 350.8ZM601.4 349.9L607.5 340.9L613.6 349.9ZM596.3 354.2L602.4 345.2L608.5 354.2ZM581.9 353.3L588.0 344.3L594.1 353.3ZM615.8 355.9L621.9 346.9L628.0 355.9ZM629.4 349.9L635.5 340.9L641.6 349.9ZM640.4 349.1L646.5 340.1L652.6 349.1ZM643.8 353.3L649.9 344.3L656.0 353.3ZM625.1 361.8L631.2 352.8L637.3 361.8ZM630.2 362.6L636.3 353.6L642.4 362.6ZM638.7 363.5L644.8 354.5L650.9 363.5ZM649.7 366.0L655.8 357.0L661.9 366.0ZM612.4 366.0L618.5 357.0L624.6 366.0ZM619.2 369.4L625.3 360.4L631.4 369.4ZM628.5 369.4L634.6 360.4L640.7 369.4ZM642.1 369.4L648.2 360.4L654.3 369.4ZM638.7 373.6L644.8 364.6L650.9 373.6ZM559.1 368.6L565.2 359.6L571.3 368.6ZM568.4 367.7L574.5 358.7L580.6 367.7ZM587.0 366.0L593.1 357.0L599.2 366.0ZM598.0 365.2L604.1 356.2L610.2 365.2ZM601.4 369.4L607.5 360.4L613.6 369.4ZM588.2 376.2L594.3 367.2L600.4 376.2ZM573.5 382.1L579.6 373.1L585.7 382.1ZM574.3 388.9L580.4 379.9L586.5 388.9ZM565.8 390.6L571.9 381.6L578.0 390.6ZM597.2 381.3L603.3 372.3L609.4 381.3ZM592.6 385.0L598.7 376.0L604.8 385.0ZM605.6 380.4L611.7 371.4L617.8 380.4ZM607.3 390.6L613.4 381.6L619.5 390.6ZM559.1 395.7L565.2 386.7L571.3 395.7ZM565.0 397.4L571.1 388.4L577.2 397.4ZM587.5 395.7L593.6 386.7L599.7 395.7ZM607.3 398.2L613.4 389.2L619.5 398.2ZM554.8 402.4L560.9 393.4L567.0 402.4ZM554.8 406.7L560.9 397.7L567.0 406.7ZM559.9 410.1L566.0 401.1L572.1 410.1ZM573.5 408.4L579.6 399.4L585.7 408.4ZM601.4 405.0L607.5 396.0L613.6 405.0ZM629.9 402.4L636.0 393.4L642.1 402.4ZM629.9 409.7L636.0 400.7L642.1 409.7ZM601.4 415.1L607.5 406.1L613.6 415.1ZM614.1 415.1L620.2 406.1L626.3 415.1ZM619.2 415.5L625.3 406.5L631.4 415.5ZM557.0 417.7L563.1 408.7L569.2 417.7ZM585.8 419.4L591.9 410.4L598.0 419.4ZM585.3 423.3L591.4 414.3L597.5 423.3ZM558.2 433.8L564.3 424.8L570.4 433.8ZM587.5 448.2L593.6 439.2L599.7 448.2ZM615.5 447.8L621.6 438.8L627.7 447.8ZM561.6 458.3L567.7 449.3L573.8 458.3ZM608.5 458.3L614.6 449.3L620.7 458.3ZM604.8 461.2L610.9 452.2L617.0 461.2ZM574.0 467.3L580.1 458.3L586.2 467.3ZM596.0 467.3L602.1 458.3L608.2 467.3ZM646.3 468.0L652.4 459.0L658.5 468.0ZM659.5 358.9L665.6 349.9L671.7 358.9ZM672.5 349.1L678.6 340.1L684.7 349.1ZM675.1 355.0L681.2 346.0L687.3 355.0ZM674.2 360.9L680.3 351.9L686.4 360.9ZM680.2 366.0L686.3 357.0L692.4 366.0ZM670.0 367.7L676.1 358.7L682.2 367.7ZM670.0 372.8L676.1 363.8L682.2 372.8ZM690.3 353.3L696.4 344.3L702.5 353.3ZM691.2 376.5L697.3 367.5L703.4 376.5ZM700.5 376.5L706.6 367.5L712.7 376.5ZM641.2 383.8L647.3 374.8L653.4 383.8ZM648.3 383.3L654.4 374.3L660.5 383.3ZM657.3 389.4L663.4 380.4L669.5 389.4ZM662.7 386.7L668.8 377.7L674.9 386.7ZM668.3 388.0L674.4 379.0L680.5 388.0ZM698.8 394.8L704.9 385.8L711.0 394.8ZM682.7 405.8L688.8 396.8L694.9 405.8ZM643.4 428.7L649.5 419.7L655.6 428.7ZM670.3 429.5L676.4 420.5L682.5 429.5ZM713.2 418.5L719.3 409.5L725.4 418.5ZM708.6 353.3L714.7 344.3L720.8 353.3ZM716.6 360.1L722.7 351.1L728.8 360.1ZM710.7 366.0L716.8 357.0L722.9 366.0ZM727.6 362.6L733.7 353.6L739.8 362.6ZM734.4 359.3L740.5 350.3L746.6 359.3ZM751.3 371.1L757.4 362.1L763.5 371.1ZM746.2 376.2L752.3 367.2L758.4 376.2ZM742.0 378.7L748.1 369.7L754.2 378.7ZM728.8 384.3L734.9 375.3L741.0 384.3ZM727.6 395.7L733.7 386.7L739.8 395.7ZM737.2 397.4L743.3 388.4L749.4 397.4ZM745.0 404.1L751.1 395.1L757.2 404.1ZM755.5 415.1L761.6 406.1L767.7 415.1ZM769.9 388.0L776.0 379.0L782.1 388.0ZM769.9 395.7L776.0 386.7L782.1 395.7ZM775.9 380.4L782.0 371.4L788.1 380.4ZM769.6 428.7L775.7 419.7L781.8 428.7ZM777.6 432.9L783.7 423.9L789.8 432.9ZM783.5 430.4L789.6 421.4L795.7 430.4ZM736.1 449.9L742.2 440.9L748.3 449.9ZM742.8 448.2L748.9 439.2L755.0 448.2ZM755.5 452.7L761.6 443.7L767.7 452.7ZM754.7 348.2L760.8 339.2L766.9 348.2ZM745.4 355.0L751.5 346.0L757.6 355.0ZM751.3 355.9L757.4 346.9L763.5 355.9ZM757.2 355.0L763.3 346.0L769.4 355.0ZM769.9 355.0L776.0 346.0L782.1 355.0ZM780.9 352.5L787.0 343.5L793.1 352.5ZM839.9 355.9L846.0 346.9L852.1 355.9ZM864.4 352.8L870.5 343.8L876.6 352.8ZM792.1 363.5L798.2 354.5L804.3 363.5ZM825.5 362.6L831.6 353.6L837.7 362.6ZM860.2 365.7L866.3 356.7L872.4 365.7ZM796.3 374.2L802.4 365.2L808.5 374.2ZM817.5 372.0L823.6 363.0L829.7 372.0ZM839.9 369.4L846.0 360.4L852.1 369.4ZM893.7 371.1L899.8 362.1L905.9 371.1ZM869.5 377.5L875.6 368.5L881.7 377.5ZM923.7 376.2L929.8 367.2L935.9 376.2ZM952.0 376.2L958.1 367.2L964.2 376.2ZM965.7 369.4L971.8 360.4L977.9 369.4ZM966.1 376.2L972.2 367.2L978.3 376.2ZM965.7 382.6L971.8 373.6L977.9 382.6ZM814.5 384.7L820.6 375.7L826.7 384.7ZM806.0 386.4L812.1 377.4L818.2 386.4ZM828.9 389.7L835.0 380.7L841.1 389.7ZM792.1 393.1L798.2 384.1L804.3 393.1ZM786.5 396.5L792.6 387.5L798.7 396.5ZM793.3 399.9L799.4 390.9L805.5 399.9ZM873.4 391.4L879.5 382.4L885.6 391.4ZM888.1 393.6L894.2 384.6L900.3 393.6ZM856.8 399.1L862.9 390.1L869.0 399.1ZM895.8 402.4L901.9 393.4L908.0 402.4ZM913.6 397.4L919.7 388.4L925.8 397.4ZM925.9 396.5L932.0 387.5L938.1 396.5ZM789.4 424.5L795.5 415.5L801.6 424.5ZM825.8 421.9L831.9 412.9L838.0 421.9ZM849.2 421.6L855.3 412.6L861.4 421.6ZM867.8 435.1L873.9 426.1L880.0 435.1ZM925.4 443.6L931.5 434.6L937.6 443.6ZM577.4 470.7L583.5 461.7L589.6 470.7ZM769.1 471.9L775.2 462.9L781.3 471.9ZM727.9 488.2L734.0 479.2L740.1 488.2ZM576.7 517.7L582.8 508.7L588.9 517.7ZM839.9 481.9L846.0 472.9L852.1 481.9ZM783.7 527.7L789.8 518.7L795.9 527.7ZM532.6 299.5L538.7 290.5L544.8 299.5ZM540.5 297.8L546.6 288.8L552.7 297.8ZM547.3 296.7L553.4 287.7L559.5 296.7ZM552.9 302.3L559.0 293.3L565.1 302.3ZM537.1 305.2L543.2 296.2L549.3 305.2ZM559.7 305.2L565.8 296.2L571.9 305.2ZM573.3 306.3L579.4 297.3L585.5 306.3ZM582.3 305.7L588.4 296.7L594.5 305.7ZM591.3 308.0L597.4 299.0L603.5 308.0ZM541.7 314.8L547.8 305.8L553.9 314.8ZM572.1 316.4L578.2 307.4L584.3 316.4ZM595.9 317.6L602.0 308.6L608.1 317.6ZM512.3 315.3L518.4 306.3L524.5 315.3Z"/>
<g fill="#ff8c00"><ellipse cx="285.0" cy="75.2" rx="4.6" ry="3.8"/><ellipse cx="439.2" cy="154.8" rx="4.6" ry="3.8"/><ellipse cx="352.5" cy="193.5" rx="4.6" ry="3.8"/><ellipse cx="397.0" cy="200.8" rx="4.6" ry="3.8"/><ellipse cx="340.5" cy="206.8" rx="4.6" ry="3.8"/><ellipse cx="337.5" cy="205.2" rx="4.6" ry="3.8"/><ellipse cx="523.5" cy="101.8" rx="4.6" ry="3.8"/><ellipse cx="551.5" cy="101.8" rx="4.6" ry="3.8"/><ellipse cx="495.2" cy="148.0" rx="4.6" ry="3.8"/><ellipse cx="607.2" cy="168.0" rx="4.6" ry="3.8"/><ellipse cx="697.2" cy="164.0" rx="4.6" ry="3.8"/><ellipse cx="495.2" cy="214.0" rx="4.6" ry="3.8"/><ellipse cx="727.2" cy="220.0" rx="4.6" ry="3.8"/><ellipse cx="313.2" cy="267.1" rx="4.6" ry="3.8"/><ellipse cx="325.7" cy="281.3" rx="4.6" ry="3.8"/><ellipse cx="256.8" cy="299.9" rx="4.6" ry="3.8"/><ellipse cx="299.1" cy="299.9" rx="4.6" ry="3.8"/><ellipse cx="253.4" cy="344.8" rx="4.6" ry="3.8"/><ellipse cx="457.6" cy="224.5" rx="4.6" ry="3.8"/><ellipse cx="445.6" cy="229.6" rx="4.6" ry="3.8"/><ellipse cx="445.6" cy="235.6" rx="4.6" ry="3.8"/><ellipse cx="537.6" cy="233.9" rx="4.6" ry="3.8"/><ellipse cx="464.7" cy="242.7" rx="4.6" ry="3.8"/><ellipse cx="506.2" cy="249.4" rx="4.6" ry="3.8"/><ellipse cx="369.0" cy="267.2" rx="4.6" ry="3.8"/><ellipse cx="518.6" cy="273.2" rx="4.6" ry="3.8"/><ellipse cx="509.3" cy="283.3" rx="4.6" ry="3.8"/><ellipse cx="555.0" cy="284.3" rx="4.6" ry="3.8"/><ellipse cx="470.3" cy="288.1" rx="4.6" ry="3.8"/><ellipse cx="495.2" cy="286.7" rx="4.6" ry="3.8"/><ellipse cx="526.6" cy="293.1" rx="4.6" ry="3.8"/><ellipse cx="397.0" cy="286.7" rx="4.6" ry="3.8"/><ellipse cx="358.5" cy="291.8" rx="4.6" ry="3.8"/><ellipse cx="341.4" cy="299.9" rx="4.6" ry="3.8"/><ellipse cx="421.9" cy="290.6" rx="4.6" ry="3.8"/><ellipse cx="413.4" cy="294.0" rx="4.6" ry="3.8"/><ellipse cx="467.3" cy="306.7" rx="4.6" ry="3.8"/><ellipse cx="527.4" cy="310.1" rx="4.6" ry="3.8"/><ellipse cx="502.5" cy="307.5" rx="4.6" ry="3.8"/><ellipse cx="355.1" cy="319.9" rx="4.6" ry="3.8"/><ellipse cx="483.4" cy="318.9" rx="4.6" ry="3.8"/><ellipse cx="541.8" cy="321.9" rx="4.6" ry="3.8"/><ellipse cx="396.1" cy="334.6" rx="4.6" ry="3.8"/><ellipse cx="400.4" cy="338.5" rx="4.6" ry="3.8"/><ellipse cx="388.0" cy="341.9" rx="4.6" ry="3.8"/><ellipse cx="494.4" cy="332.1" rx="4.6" ry="3.8"/><ellipse cx="480.0" cy="340.6" rx="4.6" ry="3.8"/><ellipse cx="531.6" cy="337.5" rx="4.6" ry="3.8"/><ellipse cx="502.0" cy="343.6" rx="4.6" ry="3.8"/><ellipse cx="494.4" cy="341.4" rx="4.6" ry="3.8"/><ellipse cx="563.8" cy="233.9" rx="4.6" ry="3.8"/><ellipse cx="574.0" cy="254.2" rx="4.6" ry="3.8"/><ellipse cx="619.4" cy="249.1" rx="4.6" ry="3.8"/><ellipse cx="638.5" cy="250.5" rx="4.6" ry="3.8"/><ellipse cx="787.0" cy="249.9" rx="4.6" ry="3.8"/><ellipse cx="679.5" cy="263.5" rx="4.6" ry="3.8"/><ellipse cx="733.7" cy="264.3" rx="4.6" ry="3.8"/><ellipse cx="705.7" cy="267.4" rx="4.6" ry="3.8"/><ellipse cx="608.9" cy="269.1" rx="4.6" ry="3.8"/><ellipse cx="716.8" cy="273.7" rx="4.6" ry="3.8"/><ellipse cx="600.4" cy="277.0" rx="4.6" ry="3.8"/><ellipse cx="623.9" cy="276.7" rx="4.6" ry="3.8"/><ellipse cx="682.0" cy="278.2" rx="4.6" ry="3.8"/><ellipse cx="695.6" cy="281.3" rx="4.6" ry="3.8"/><ellipse cx="707.1" cy="288.1" rx="4.6" ry="3.8"/><ellipse cx="569.4" cy="291.4" rx="4.6" ry="3.8"/><ellipse cx="750.6" cy="290.3" rx="4.6" ry="3.8"/><ellipse cx="737.9" cy="295.7" rx="4.6" ry="3.8"/><ellipse cx="786.7" cy="292.3" rx="4.6" ry="3.8"/><ellipse cx="778.6" cy="296.2" rx="4.6" ry="3.8"/><ellipse cx="716.2" cy="299.6" rx="4.6" ry="3.8"/><ellipse cx="715.1" cy="306.3" rx="4.6" ry="3.8"/><ellipse cx="674.1" cy="301.6" rx="4.6" ry="3.8"/><ellipse cx="623.6" cy="306.3" rx="4.6" ry="3.8"/><ellipse cx="636.0" cy="305.8" rx="4.6" ry="3.8"/><ellipse cx="649.5" cy="311.8" rx="4.6" ry="3.8"/><ellipse cx="789.6" cy="319.9" rx="4.6" ry="3.8"/><ellipse cx="671.9" cy="330.4" rx="4.6" ry="3.8"/><ellipse cx="564.8" cy="335.8" rx="4.6" ry="3.8"/><ellipse cx="583.5" cy="332.9" rx="4.6" ry="3.8"/><ellipse cx="584.1" cy="338.0" rx="4.6" ry="3.8"/><ellipse cx="588.0" cy="344.3" rx="4.6" ry="3.8"/><ellipse cx="818.0" cy="233.9" rx="4.6" ry="3.8"/><ellipse cx="873.9" cy="230.5" rx="4.6" ry="3.8"/><ellipse cx="906.1" cy="257.6" rx="4.6" ry="3.8"/><ellipse cx="818.0" cy="260.6" rx="4.6" ry="3.8"/><ellipse cx="803.6" cy="280.9" rx="4.6" ry="3.8"/><ellipse cx="901.9" cy="300.3" rx="4.6" ry="3.8"/><ellipse cx="915.8" cy="300.3" rx="4.6" ry="3.8"/><ellipse cx="930.2" cy="313.5" rx="4.6" ry="3.8"/><ellipse cx="818.5" cy="310.4" rx="4.6" ry="3.8"/><ellipse cx="810.4" cy="318.2" rx="4.6" ry="3.8"/><ellipse cx="859.2" cy="327.4" rx="4.6" ry="3.8"/><ellipse cx="1000.1" cy="326.7" rx="4.6" ry="3.8"/><ellipse cx="324.5" cy="358.9" rx="4.6" ry="3.8"/><ellipse cx="286.1" cy="397.9" rx="4.6" ry="3.8"/><ellipse cx="383.4" cy="364.9" rx="4.6" ry="3.8"/><ellipse cx="412.6" cy="363.5" rx="4.6" ry="3.8"/><ellipse cx="463.6" cy="367.7" rx="4.6" ry="3.8"/><ellipse cx="467.3" cy="372.8" rx="4.6" ry="3.8"/><ellipse cx="489.0" cy="377.9" rx="4.6" ry="3.8"/><ellipse cx="533.3" cy="354.7" rx="4.6" ry="3.8"/><ellipse cx="550.3" cy="365.4" rx="4.6" ry="3.8"/><ellipse cx="554.5" cy="347.9" rx="4.6" ry="3.8"/><ellipse cx="530.8" cy="383.0" rx="4.6" ry="3.8"/><ellipse cx="511.3" cy="397.0" rx="4.6" ry="3.8"/><ellipse cx="544.0" cy="398.7" rx="4.6" ry="3.8"/><ellipse cx="419.3" cy="423.0" rx="4.6" ry="3.8"/><ellipse cx="509.3" cy="458.9" rx="4.6" ry="3.8"/><ellipse cx="577.0" cy="355.0" rx="4.6" ry="3.8"/><ellipse cx="611.4" cy="372.5" rx="4.6" ry="3.8"/><ellipse cx="677.0" cy="351.8" rx="4.6" ry="3.8"/><ellipse cx="696.9" cy="360.6" rx="4.6" ry="3.8"/><ellipse cx="735.4" cy="347.6" rx="4.6" ry="3.8"/><ellipse cx="747.2" cy="345.7" rx="4.6" ry="3.8"/><ellipse cx="746.4" cy="361.5" rx="4.6" ry="3.8"/><ellipse cx="775.7" cy="366.2" rx="4.6" ry="3.8"/><ellipse cx="739.3" cy="387.4" rx="4.6" ry="3.8"/><ellipse cx="682.9" cy="403.3" rx="4.6" ry="3.8"/><ellipse cx="656.3" cy="434.3" rx="4.6" ry="3.8"/><ellipse cx="661.4" cy="439.4" rx="4.6" ry="3.8"/><ellipse cx="673.6" cy="436.3" rx="4.6" ry="3.8"/><ellipse cx="705.4" cy="432.1" rx="4.6" ry="3.8"/><ellipse cx="834.5" cy="347.6" rx="4.6" ry="3.8"/><ellipse cx="862.6" cy="346.7" rx="4.6" ry="3.8"/><ellipse cx="949.6" cy="364.4" rx="4.6" ry="3.8"/><ellipse cx="860.7" cy="383.2" rx="4.6" ry="3.8"/><ellipse cx="803.6" cy="425.5" rx="4.6" ry="3.8"/><ellipse cx="855.3" cy="425.8" rx="4.6" ry="3.8"/><ellipse cx="956.9" cy="421.3" rx="4.6" ry="3.8"/><ellipse cx="943.9" cy="445.3" rx="4.6" ry="3.8"/><ellipse cx="548.2" cy="472.8" rx="4.6" ry="3.8"/><ellipse cx="803.8" cy="531.5" rx="4.6" ry="3.8"/></g>
<linearGradient id="bg" gradientUnits="userSpaceOnUse" x1="117" y1="0" x2="1042" y2="0"><stop offset="0" stop-color="#a6a6a6" stop-opacity="0.78"/><stop offset="0.14" stop-color="#a2a2a2" stop-opacity="0.72"/><stop offset="0.25" stop-color="#939393" stop-opacity="0.55"/><stop offset="0.36" stop-color="#878787" stop-opacity="0.42"/><stop offset="0.48" stop-color="#878787" stop-opacity="0.36"/><stop offset="0.62" stop-color="#878787" stop-opacity="0.38"/><stop offset="0.76" stop-color="#878787" stop-opacity="0.5"/><stop offset="1" stop-color="#878787" stop-opacity="0.56"/></linearGradient>
<polygon points="117.0,265.1 132.7,265.9 148.4,266.7 164.0,267.5 179.7,268.4 195.4,269.3 211.1,270.3 226.7,271.3 242.4,272.3 258.1,273.4 273.8,274.4 289.5,275.6 305.1,276.7 320.8,277.9 336.5,279.1 352.2,280.3 367.8,281.5 383.5,282.7 399.2,284.0 414.9,285.3 430.6,286.6 446.2,287.8 461.9,289.1 477.6,290.4 493.3,291.7 508.9,293.1 524.6,294.4 540.3,295.7 556.0,296.9 571.7,298.2 587.3,299.5 603.0,300.8 618.7,302.0 634.4,303.3 650.1,304.5 665.7,305.7 681.4,306.8 697.1,308.0 712.8,309.1 728.4,310.2 744.1,311.3 759.8,312.3 775.5,313.3 791.2,314.3 806.8,315.2 822.5,316.1 838.2,317.0 853.9,317.8 869.5,318.6 885.2,319.3 900.9,319.9 916.6,320.5 932.3,321.1 947.9,321.6 963.6,322.1 979.3,322.5 995.0,322.8 1010.6,323.0 1026.3,323.2 1042.0,323.4 1042.0,396.6 1026.3,392.5 1010.6,388.6 995.0,384.7 979.3,381.0 963.6,377.4 947.9,373.9 932.3,370.5 916.6,367.3 900.9,364.2 885.2,361.1 869.5,358.2 853.9,355.4 838.2,352.7 822.5,350.1 806.8,347.6 791.2,345.2 775.5,342.9 759.8,340.7 744.1,338.6 728.4,336.6 712.8,334.6 697.1,332.8 681.4,331.0 665.7,329.3 650.1,327.8 634.4,326.2 618.7,324.8 603.0,323.5 587.3,322.2 571.7,321.0 556.0,319.8 540.3,318.7 524.6,317.7 508.9,316.8 493.3,315.9 477.6,315.1 461.9,314.4 446.2,313.7 430.6,313.0 414.9,312.4 399.2,311.9 383.5,311.4 367.8,310.9 352.2,310.5 336.5,310.2 320.8,309.9 305.1,309.6 289.5,309.4 273.8,309.2 258.1,309.0 242.4,308.9 226.7,308.7 211.1,308.7 195.4,308.6 179.7,308.6 164.0,308.6 148.4,308.6 132.7,308.6 117.0,308.7" fill="url(#bg)"/>
<polyline points="117.0,286.9 132.7,287.3 148.4,287.6 164.0,288.1 179.7,288.5 195.4,289.0 211.1,289.5 226.7,290.0 242.4,290.6 258.1,291.2 273.8,291.8 289.5,292.5 305.1,293.1 320.8,293.9 336.5,294.6 352.2,295.4 367.8,296.2 383.5,297.1 399.2,297.9 414.9,298.8 430.6,299.8 446.2,300.8 461.9,301.7 477.6,302.8 493.3,303.8 508.9,304.9 524.6,306.0 540.3,307.2 556.0,308.4 571.7,309.6 587.3,310.8 603.0,312.1 618.7,313.4 634.4,314.7 650.1,316.1 665.7,317.5 681.4,318.9 697.1,320.4 712.8,321.9 728.4,323.4 744.1,324.9 759.8,326.5 775.5,328.1 791.2,329.8 806.8,331.4 822.5,333.1 838.2,334.8 853.9,336.6 869.5,338.4 885.2,340.2 900.9,342.0 916.6,343.9 932.3,345.8 947.9,347.8 963.6,349.7 979.3,351.7 995.0,353.7 1010.6,355.8 1026.3,357.9 1042.0,360.0" fill="none" stroke="#ff8c00" stroke-width="3.5"/>
<polygon points="117.0,294.3 132.7,294.8 148.4,295.4 164.0,296.0 179.7,296.6 195.4,297.2 211.1,297.9 226.7,298.5 242.4,299.2 258.1,299.9 273.8,300.6 289.5,301.3 305.1,302.0 320.8,302.8 336.5,303.5 352.2,304.3 367.8,305.0 383.5,305.8 399.2,306.6 414.9,307.4 430.6,308.2 446.2,309.1 461.9,309.9 477.6,310.7 493.3,311.5 508.9,312.4 524.6,313.2 540.3,314.1 556.0,314.9 571.7,315.8 587.3,316.6 603.0,317.5 618.7,318.3 634.4,319.2 650.1,320.0 665.7,320.9 681.4,321.7 697.1,322.6 712.8,323.4 728.4,324.2 744.1,325.1 759.8,325.9 775.5,326.7 791.2,327.5 806.8,328.3 822.5,329.1 838.2,329.9 853.9,330.7 869.5,331.4 885.2,332.2 900.9,332.9 916.6,333.6 932.3,334.4 947.9,335.0 963.6,335.7 979.3,336.4 995.0,337.1 1010.6,337.7 1026.3,338.3 1042.0,338.9 1042.0,370.6 1026.3,368.0 1010.6,365.6 995.0,363.2 979.3,360.9 963.6,358.6 947.9,356.4 932.3,354.3 916.6,352.2 900.9,350.2 885.2,348.3 869.5,346.4 853.9,344.6 838.2,342.9 822.5,341.2 806.8,339.5 791.2,337.9 775.5,336.4 759.8,334.9 744.1,333.5 728.4,332.1 712.8,330.8 697.1,329.5 681.4,328.3 665.7,327.1 650.1,326.0 634.4,324.9 618.7,323.9 603.0,322.9 587.3,322.0 571.7,321.1 556.0,320.3 540.3,319.5 524.6,318.7 508.9,318.0 493.3,317.3 477.6,316.7 461.9,316.1 446.2,315.5 430.6,315.0 414.9,314.5 399.2,314.0 383.5,313.6 367.8,313.2 352.2,312.8 336.5,312.5 320.8,312.2 305.1,311.9 289.5,311.7 273.8,311.4 258.1,311.3 242.4,311.1 226.7,311.0 211.1,310.9 195.4,310.8 179.7,310.7 164.0,310.7 148.4,310.6 132.7,310.6 117.0,310.6" fill="url(#bg)"/>
<polyline points="117.0,302.5 132.7,302.7 148.4,303.0 164.0,303.3 179.7,303.6 195.4,304.0 211.1,304.4 226.7,304.7 242.4,305.1 258.1,305.6 273.8,306.0 289.5,306.5 305.1,307.0 320.8,307.5 336.5,308.0 352.2,308.5 367.8,309.1 383.5,309.7 399.2,310.3 414.9,310.9 430.6,311.6 446.2,312.3 461.9,313.0 477.6,313.7 493.3,314.4 508.9,315.2 524.6,316.0 540.3,316.8 556.0,317.6 571.7,318.4 587.3,319.3 603.0,320.2 618.7,321.1 634.4,322.1 650.1,323.0 665.7,324.0 681.4,325.0 697.1,326.0 712.8,327.1 728.4,328.2 744.1,329.3 759.8,330.4 775.5,331.5 791.2,332.7 806.8,333.9 822.5,335.1 838.2,336.4 853.9,337.6 869.5,338.9 885.2,340.2 900.9,341.6 916.6,342.9 932.3,344.3 947.9,345.7 963.6,347.2 979.3,348.6 995.0,350.1 1010.6,351.6 1026.3,353.2 1042.0,354.7" fill="none" stroke="#5888ba" stroke-width="3.8"/>
<path fill="#5888ba" d="M1036.3 342.6L1042.4 333.6L1048.5 342.6Z"/>
<rect x="121" y="59.3" width="38" height="58.2" fill="#bebebe"/>
<line x1="125" y1="74.2" x2="155" y2="74.2" stroke="#ff8c00" stroke-width="3"/><ellipse cx="140" cy="74.2" rx="3.2" ry="2.6" fill="#e8871a"/>
<line x1="125" y1="103.4" x2="155" y2="103.4" stroke="#5888ba" stroke-width="3"/><path d="M136.5 105.5L140 100.2L143.5 105.5Z" fill="#5888ba"/>
<text stroke="#333" x="171" y="79.3" font-size="12.8" fill="#333" textLength="52.5" lengthAdjust="spacingAndGlyphs">Women</text>
<text stroke="#333" x="171" y="108.6" font-size="12.8" fill="#333" textLength="29" lengthAdjust="spacingAndGlyphs">Men</text>
<text stroke="#3a3a3a" x="355.5" y="19" font-size="16.6" fill="#3a3a3a" textLength="448" lengthAdjust="spacingAndGlyphs">Regression model of delta EF by baseline EF</text>
<text stroke="#444" x="451.8" y="594.2" font-size="15.8" fill="#444" textLength="255.3" lengthAdjust="spacingAndGlyphs">Baseline Ejection fraction [%]</text>
<g transform="translate(21.2,381.4) scale(1.3,1) rotate(-90)"><text stroke="#444" x="0" y="0" font-size="15.3" fill="#444" textLength="175.7" lengthAdjust="spacingAndGlyphs">Delta Ejection fraction [%]</text></g>
<text stroke="#666" transform="translate(229.3,575.6) scale(1.24,1)" text-anchor="middle" font-size="17" fill="#666">20</text>
<text stroke="#666" transform="translate(509.6,575.6) scale(1.24,1)" text-anchor="middle" font-size="17" fill="#666">40</text>
<text stroke="#666" transform="translate(789.9,575.6) scale(1.24,1)" text-anchor="middle" font-size="17" fill="#666">60</text>
<text stroke="#666" transform="translate(1070.2,575.6) scale(1.24,1)" text-anchor="middle" font-size="17" fill="#666">80</text>
<text stroke="#666" transform="translate(60.2,81.7) scale(1.24,1)" text-anchor="end" font-size="17" fill="#666">40</text>
<text stroke="#666" transform="translate(60.2,213.8) scale(1.24,1)" text-anchor="end" font-size="17" fill="#666">20</text>
<text stroke="#666" transform="translate(60.2,345.9) scale(1.24,1)" text-anchor="end" font-size="17" fill="#666">0</text>
<text stroke="#666" transform="translate(60.2,478.0) scale(1.24,1)" text-anchor="end" font-size="17" fill="#666">-20</text>
</g>
<text x="815" y="681.4" font-size="31.4" fill="#111" textLength="596.6" lengthAdjust="spacingAndGlyphs">Women: R=0.21, y=12.4-0.18x, p=0.005</text>
<text x="815" y="725.4" font-size="31.4" fill="#111" textLength="529" lengthAdjust="spacingAndGlyphs">Men: R=0.17, y=8.8-0.13x, p&lt;0.001</text>
</svg></body></html>
